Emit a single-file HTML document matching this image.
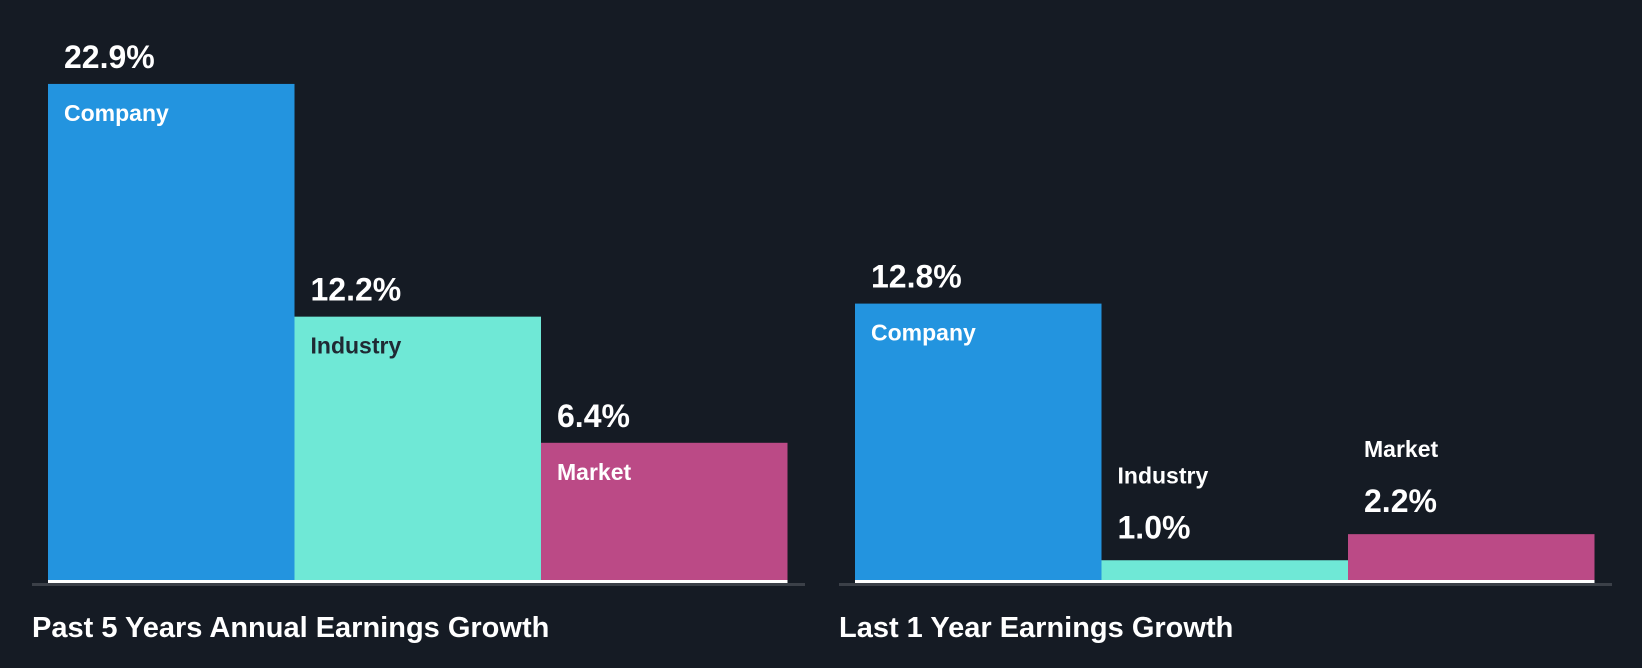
<!DOCTYPE html>
<html><head><meta charset="utf-8"><style>
html,body{margin:0;padding:0;background:#151b24;}
svg{display:block;font-family:"Liberation Sans",sans-serif;font-weight:bold;}
</style></head><body>
<svg id="chart" width="1642" height="668" viewBox="0 0 1642 668">
<rect width="1642" height="668" fill="#151b24"/>
</svg>
<script>
const panels = ["Past 5 Years Annual Earnings Growth", "Last 1 Year Earnings Growth"];
const categories = ["Company", "Industry", "Market"];
const past5Values = [22.9, 12.2, 6.4];
const last1Values = [12.8, 1.0, 2.2];
const valueLabels = [["22.9%","12.2%","6.4%"],["12.8%","1.0%","2.2%"]];
const series = [past5Values, last1Values];
const colors = ["#2394df","#6fe8d6","#bb4a86"];
const textColors = ["#ffffff","#1f2933","#ffffff"];

const NS = "http://www.w3.org/2000/svg";
const svg = document.getElementById("chart");
const baseY = 582, pxPer = 21.75;
const panelX = [48, 855], barW = 246.5;
function y(v){ return baseY - v*pxPer; }
function mk(tag, attrs, parent){ const e=document.createElementNS(NS,tag); for(const k in attrs) e.setAttribute(k,attrs[k]); (parent||svg).appendChild(e); return e; }

series.forEach((vals, p) => {
  const g = mk("g", {});
  
  
  const ax = mk("rect", {x: panelX[p]-16, y: baseY+1, width: 773, height: 3, fill: "#3b4048"}, g);
  
  
  vals.forEach((v, i) => {
    const x = panelX[p] + i*barW, top = y(v), h = baseY - top;
    const r = mk("rect", {x: x, y: top, width: barW, height: h, fill: colors[i]}, g);
    
    
    const inside = h > 60;
    const nameY = inside ? top + 37 : top - 77;
    const valY = inside ? top - 16 : top - 22;
    const n = mk("text", {x: x+16, y: nameY, fill: inside ? textColors[i] : "#ffffff", "font-size": 23}, g);
    n.textContent = categories[i];
    
    
    const t = mk("text", {x: x+16, y: valY, fill: "#ffffff", "font-size": 32}, g);
    t.textContent = valueLabels[p][i];
    
    
  });
  const wl = mk("rect", {x: panelX[p], y: baseY-2, width: barW*3, height: 3, fill: "#ffffff"}, g);
  
  
  const tt = mk("text", {x: panelX[p]-16, y: 637, fill: "#ffffff", "font-size": 29}, g);
  tt.textContent = panels[p];
  
  
});
</script>
</body></html>
